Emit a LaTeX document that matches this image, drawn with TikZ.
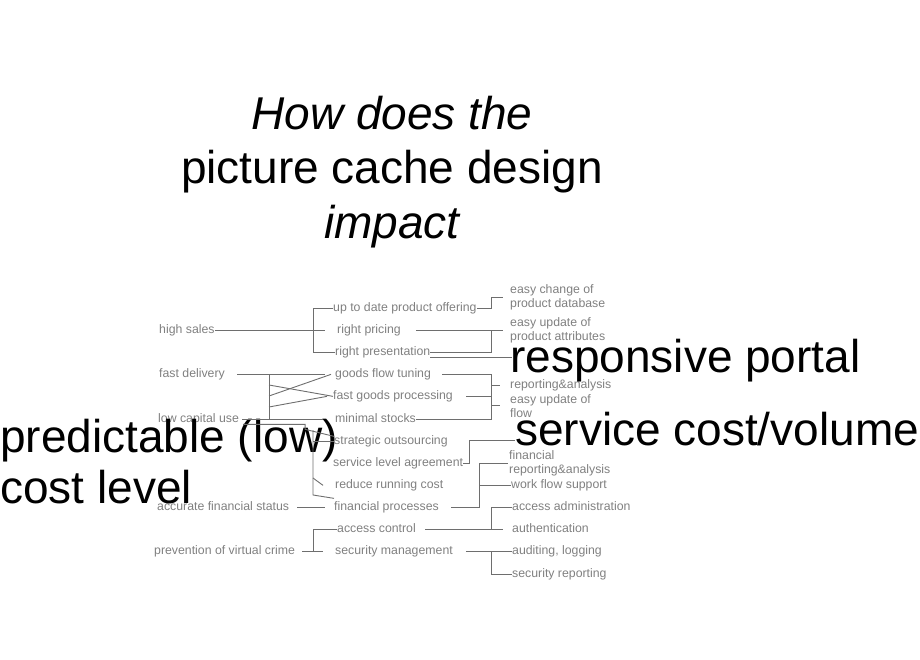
\documentclass[tikz,border=0pt]{standalone}
\usepackage{fontspec}
\setmainfont{Liberation Sans}
\usepackage{xcolor}
\usepackage{tikz}
\usetikzlibrary{positioning}
\definecolor{txtgray}{RGB}{128,128,128}
\definecolor{lngray}{RGB}{110,110,110}
\tikzset{
  lbl/.style={font=\fontsize{12.3}{14.5}\selectfont, text=txtgray, inner sep=0pt, anchor=base west, align=left},
  bigtxt/.style={font=\fontsize{46}{51.5}\selectfont, inner sep=0pt, anchor=base west, align=left},
  ttl/.style={font=\fontsize{46}{54.5}\selectfont, inner sep=0pt, anchor=base, align=center},
  link/.style={draw=lngray, line width=0.9pt}
}

\begin{document}
\begin{tikzpicture}[x=1pt,y=-1pt]
  \useasboundingbox (0,0) rectangle (920,660);
  % title (placed at its last baseline)
  \node[ttl] (title) at (392,238.5) {{\itshape How does the}\\picture cache design\\{\itshape impact}};
  % goals
  \node[lbl] (hs)  at (159,333) {high sales};
  \node[lbl] (fd)  at (159,377) {fast delivery};
  \node[lbl] (lcu) at (158,422) {low capital use};
  \node[lbl] (afs) at (157,510) {accurate financial status};
  \node[lbl] (pvc) at (154,554) {prevention of virtual crime};
  % means
  \node[lbl] (upo) at (333,311) {up to date product offering};
  \node[lbl] (rpr) at (337,333) {right pricing};
  \node[lbl] (rps) at (335,355) {right presentation};
  \node[lbl] (gft) at (335,377) {goods flow tuning};
  \node[lbl] (fgp) at (333,399) {fast goods processing};
  \node[lbl] (mst) at (335,422) {minimal stocks};
  \node[lbl] (sou) at (334,444) {strategic outsourcing};
  \node[lbl] (sla) at (333,466) {service level agreement};
  \node[lbl] (rrc) at (335,488) {reduce running cost};
  \node[lbl] (fpr) at (334,510) {financial processes};
  \node[lbl] (acc) at (337,532) {access control};
  \node[lbl] (sem) at (335,554) {security management};
  % features (two-line ones at their last baseline)
  \node[lbl] (ecd) at (510,307.5) {easy change of\\product database};
  \node[lbl] (eua) at (510,340.5) {easy update of\\product attributes};
  \node[lbl] (rea) at (510,388) {reporting\&analysis};
  \node[lbl] (euf) at (510,417.5) {easy update of\\flow};
  \node[lbl] (fra) at (509,473.5) {financial\\reporting\&analysis};
  \node[lbl] (wfs) at (511,488) {work flow support};
  \node[lbl] (aad) at (512,510) {access administration};
  \node[lbl] (aut) at (512,532) {authentication};
  \node[lbl] (alg) at (512,554) {auditing, logging};
  \node[lbl] (srp) at (512,577) {security reporting};
  % big labels
  \node[bigtxt] (rsp) at (510,372) {responsive portal};
  \node[bigtxt] (scv) at (515,445) {service cost/volume};
  \node[bigtxt] (pcl) at (0,503.5) {predictable (low)\\cost level};
  % spines
  \coordinate (xa) at (269,0);
  \coordinate (xb) at (313,0);
  \coordinate (xc) at (491,0);
  \coordinate (xd) at (479,0);
  % left side
  \draw[link] (hs.mid east) -- ([xshift=-12]rpr.mid west);
  \draw[link] (upo.mid west) -- (xb |- upo.mid west) |- (rps.mid west);
  \draw[link] ([xshift=12]fd.mid east) -- ([xshift=-10]gft.mid west);
  \draw[link] ([xshift=3]lcu.mid east) -- ([xshift=-12]mst.mid west);
  \draw[link] (xa |- fd.mid east) -- (xa |- lcu.mid east);
  \draw[link] (269,385) -- (fgp.mid west);
  \draw[link] (269,396) -- ([xshift=-4]gft.mid west);
  \draw[link] (269,407) -- ([xshift=-6]fgp.mid west);
  \draw[link] ([xshift=4,yshift=-5]lcu.mid east) -- ++(62,0) -- ++(0,5) -- ([yshift=5]sou.mid west);
  \draw[link] (xb |- sou.mid west) -- (sou.mid west);
  \draw[link] (313,430) -- (313,495) -- ([yshift=9]fpr.mid west);
  \draw[link] (313,478) -- ([xshift=-12]rrc.mid west);
  \draw[link] ([xshift=8]afs.mid east) -- ([xshift=-9]fpr.mid west);
  \draw[link] ([xshift=7]pvc.mid east) -- ([xshift=-12]sem.mid west);
  \draw[link] (xb |- sem.mid west) |- (acc.mid west);
  % right side
  \draw[link] (upo.mid east) -| (xc |- ecd.west) -- ([xshift=-7]ecd.west);
  \draw[link] ([xshift=15]rpr.mid east) -- ([xshift=-7]rpr.mid east -| eua.west);
  \draw[link] (rps.mid east) -| (xc |- rpr.mid east);
  \draw[link] ([yshift=-5]rps.mid east) -- ([xshift=2,yshift=-5]rps.mid east -| rsp.west);
  \draw[link] ([xshift=11]gft.mid east) -| (xc |- mst.mid east) -- (mst.mid east);
  \draw[link] ([xshift=13]fgp.mid east) -- (xc |- fgp.mid east);
  \draw[link] (xc |- rea.mid west) -- ([xshift=-10]rea.mid west);
  \draw[link] (xc |- euf.west) -- ([xshift=-10]euf.west);
  \draw[link] (sla.mid east) -- ++(6,0) |- ([yshift=5]scv.base west);
  \draw[link] ([xshift=12]fpr.mid east) -| (xd |- fra.west) -- ([xshift=-1]fra.west);
  \draw[link] (xd |- wfs.mid west) -- (wfs.mid west);
  \draw[link] ([xshift=9]acc.mid east) -- ([xshift=-9]aut.mid west);
  \draw[link] (xc |- aut.mid west) |- (aad.mid west);
  \draw[link] ([xshift=13]sem.mid east) -- (alg.mid west);
  \draw[link] (xc |- alg.mid west) |- (srp.mid west);
\end{tikzpicture}
\end{document}
